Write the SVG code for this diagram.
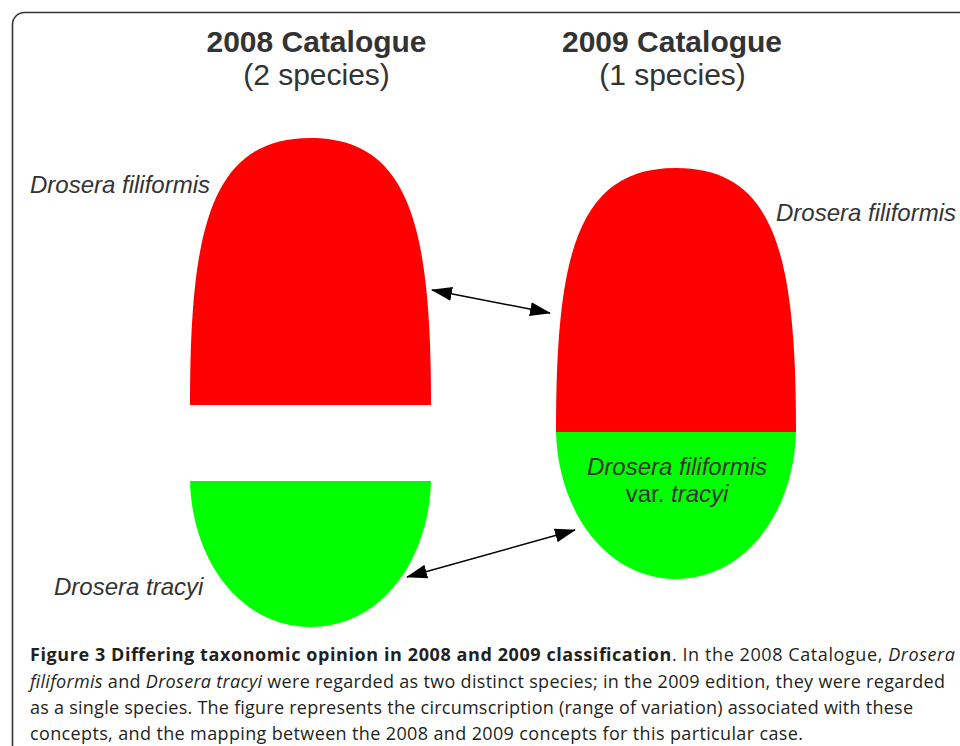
<svg xmlns="http://www.w3.org/2000/svg" width="960" height="746" viewBox="0 0 960 746">
<style>
.t{font-family:"Liberation Sans",Arial,sans-serif;fill:#333333}
.h{font-size:30px;text-anchor:middle}
.b{font-weight:bold}
.l{font-size:24px;font-style:italic}
.c{font-family:"Open Sans","Noto Sans",sans-serif;font-size:18px;fill:#231f20}
.red{fill:#ff0000}
.green{fill:#00ff00}
.conn{stroke:#000;stroke-width:1.5;fill:none;marker-start:url(#ah);marker-end:url(#ah)}
</style>
<defs>
<marker id="ah" viewBox="0 0 21 14" refX="20" refY="7" markerWidth="21" markerHeight="14" markerUnits="userSpaceOnUse" orient="auto-start-reverse">
<path d="M0,0 L21,7 L0,14 Z" fill="#000"/>
</marker>
</defs>
<rect x="12.5" y="12.5" width="1000" height="800" rx="12" fill="#fff" stroke="#333" stroke-width="1.6"/>
<g id="title2008">
<text class="t h b" x="316.5" y="52">2008 Catalogue</text>
<text class="t h" x="316.5" y="85">(2 species)</text>
</g>
<g id="title2009">
<text class="t h b" x="672" y="52">2009 Catalogue</text>
<text class="t h" x="672.5" y="85">(1 species)</text>
</g>
<g id="filiformis2008">
<path class="red" d="M190,405 C190,230 210,138 310.5,138 C411,138 431,230 431,405 Z"/>
<text class="t l" x="30" y="193">Drosera filiformis</text>
</g>
<g id="tracyi2008">
<path class="green" d="M190,481 C192,560 240,627 310.5,627 C381,627 429,560 431,481 Z"/>
<text class="t l" x="54" y="595">Drosera tracyi</text>
</g>
<g id="filiformis2009">
<path class="red" d="M556,432 C556,257 576,168 676,168 C776,168 796,257 796,432 Z"/>
<text class="t l" x="776" y="221">Drosera filiformis</text>
</g>
<g id="var2009">
<path class="green" d="M556,432 C558,511 606,579 676,579 C746,579 794,511 796,432 Z"/>
<text class="t" style="font-size:24px;text-anchor:middle" x="677" y="475"><tspan font-style="italic">Drosera filiformis</tspan></text>
<text class="t" style="font-size:24px;text-anchor:middle" x="677" y="502">var. <tspan font-style="italic">tracyi</tspan></text>
</g>
<g id="connectors">
<line class="conn" x1="432" y1="290" x2="550" y2="313"/>
<line class="conn" x1="407" y1="577" x2="575" y2="530"/>
</g>
<g id="caption">
<text class="c" x="30" y="661" textLength="925" lengthAdjust="spacing"><tspan font-weight="bold">Figure 3 Differing taxonomic opinion in 2008 and 2009 classification</tspan>. In the 2008 Catalogue, <tspan font-style="italic">Drosera</tspan></text>
<text class="c" x="30" y="688" textLength="915" lengthAdjust="spacing"><tspan font-style="italic">filiformis</tspan> and <tspan font-style="italic">Drosera tracyi</tspan> were regarded as two distinct species; in the 2009 edition, they were regarded</text>
<text class="c" x="30" y="714" textLength="883" lengthAdjust="spacing">as a single species. The figure represents the circumscription (range of variation) associated with these</text>
<text class="c" x="30" y="740" textLength="773" lengthAdjust="spacing">concepts, and the mapping between the 2008 and 2009 concepts for this particular case.</text>
</g>
</svg>
